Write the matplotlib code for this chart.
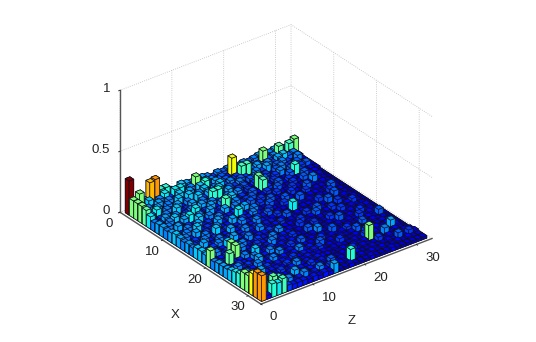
import matplotlib
matplotlib.use('Agg')
import matplotlib.pyplot as plt
import numpy as np

plt.rcParams['font.family'] = ['Liberation Sans', 'DejaVu Sans']
plt.rcParams['grid.color'] = '#bcbcbc'
plt.rcParams['grid.linestyle'] = ':'
plt.rcParams['grid.linewidth'] = 0.6

# bar heights in hundredths; rows are X = 1..32, columns Z = 1..32
heights = [
    [28, 7, 14, 7, 20, 21, 11, 11, 7, 5, 9, 8, 7, 9, 8, 7, 5, 7, 6, 7, 8, 6, 7, 6, 7, 8, 6, 7, 8, 7, 6, 5],
    [14, 7, 5, 9, 4, 7, 10, 5, 10, 10, 5, 7, 14, 5, 8, 7, 3, 6, 4, 18, 6, 7, 8, 6, 5, 14, 6, 7, 13, 5, 12, 14],
    [14, 5, 7, 5, 8, 4, 7, 5, 9, 5, 8, 4, 9, 11, 5, 8, 3, 6, 3, 5, 12, 12, 6, 8, 6, 7, 5, 8, 9, 6, 7, 3],
    [14, 4, 5, 8, 4, 7, 4, 9, 5, 9, 4, 7, 9, 5, 7, 9, 5, 7, 3, 6, 5, 3, 7, 5, 8, 3, 6, 7, 5, 3, 7, 2],
    [13, 7, 10, 4, 7, 5, 8, 4, 7, 4, 9, 5, 8, 4, 9, 4, 6, 5, 7, 3, 6, 7, 3, 5, 3, 6, 7, 5, 3, 6, 3, 2],
    [10, 4, 5, 7, 4, 9, 4, 5, 8, 4, 7, 4, 11, 11, 5, 8, 3, 5, 6, 3, 5, 3, 6, 3, 5, 7, 3, 6, 3, 5, 6, 2],
    [7, 5, 8, 4, 7, 4, 5, 7, 4, 8, 4, 7, 5, 4, 7, 4, 7, 3, 5, 3, 13, 6, 3, 5, 3, 3, 6, 11, 5, 3, 3, 2],
    [8, 4, 7, 9, 4, 7, 5, 10, 4, 5, 8, 4, 7, 4, 9, 4, 5, 3, 6, 3, 12, 5, 3, 6, 3, 5, 3, 3, 6, 3, 3, 1],
    [8, 7, 4, 5, 8, 10, 4, 7, 4, 8, 4, 5, 12, 4, 7, 4, 5, 6, 3, 3, 5, 3, 6, 3, 3, 5, 3, 6, 3, 2, 3, 1],
    [7, 4, 8, 4, 5, 4, 9, 4, 7, 4, 5, 8, 4, 7, 4, 3, 6, 3, 5, 3, 3, 5, 3, 3, 5, 3, 3, 3, 7, 3, 2, 1],
    [8, 5, 4, 7, 4, 8, 4, 5, 4, 7, 4, 4, 5, 4, 8, 4, 3, 5, 3, 6, 3, 3, 3, 5, 3, 2, 6, 3, 2, 3, 2, 1],
    [9, 4, 7, 4, 9, 4, 5, 4, 8, 4, 5, 4, 10, 4, 4, 7, 3, 3, 6, 3, 3, 6, 3, 2, 3, 5, 2, 3, 3, 2, 3, 1],
    [8, 7, 4, 8, 4, 5, 4, 7, 4, 4, 8, 4, 5, 4, 7, 4, 3, 5, 3, 2, 5, 3, 2, 6, 2, 3, 3, 2, 3, 6, 2, 1],
    [7, 4, 5, 4, 7, 4, 9, 4, 5, 4, 4, 7, 4, 4, 5, 4, 6, 2, 3, 3, 3, 6, 3, 2, 3, 2, 3, 2, 5, 2, 2, 1],
    [8, 5, 4, 7, 4, 5, 4, 4, 8, 4, 5, 4, 4, 7, 4, 3, 3, 5, 2, 3, 10, 2, 3, 3, 2, 5, 2, 3, 6, 2, 2, 1],
    [7, 4, 8, 4, 4, 7, 4, 5, 4, 4, 7, 4, 5, 3, 4, 4, 2, 3, 6, 2, 3, 3, 2, 3, 2, 2, 6, 2, 2, 3, 2, 1],
    [9, 4, 4, 5, 7, 4, 4, 8, 4, 5, 4, 3, 7, 4, 3, 4, 5, 2, 3, 3, 2, 5, 2, 6, 3, 2, 2, 5, 2, 2, 3, 1],
    [9, 5, 4, 4, 4, 9, 5, 4, 4, 7, 3, 4, 4, 5, 4, 3, 3, 3, 2, 5, 2, 3, 6, 2, 3, 5, 2, 2, 3, 5, 2, 1],
    [8, 4, 7, 4, 5, 4, 4, 7, 4, 3, 5, 4, 3, 4, 7, 3, 3, 2, 5, 2, 3, 2, 3, 3, 2, 2, 5, 2, 3, 2, 2, 1],
    [14, 4, 4, 5, 14, 4, 7, 4, 3, 5, 4, 4, 7, 3, 4, 4, 2, 3, 2, 3, 5, 2, 2, 5, 2, 3, 2, 3, 2, 3, 3, 1],
    [7, 5, 4, 7, 14, 5, 4, 4, 5, 3, 4, 7, 3, 4, 3, 5, 3, 2, 6, 2, 3, 2, 3, 2, 6, 2, 3, 2, 5, 2, 2, 1],
    [8, 4, 13, 4, 4, 7, 4, 9, 3, 4, 5, 3, 4, 3, 4, 3, 3, 2, 3, 7, 2, 3, 2, 3, 2, 3, 2, 5, 2, 3, 2, 1],
    [8, 5, 4, 5, 4, 4, 7, 4, 4, 7, 3, 4, 3, 5, 3, 6, 2, 3, 2, 3, 2, 6, 2, 2, 3, 2, 3, 2, 3, 2, 6, 1],
    [8, 4, 7, 4, 5, 4, 8, 3, 4, 4, 7, 3, 4, 3, 4, 3, 3, 2, 5, 2, 3, 2, 3, 5, 2, 3, 6, 2, 3, 2, 2, 1],
    [9, 5, 4, 4, 4, 7, 4, 4, 7, 3, 4, 3, 4, 7, 3, 4, 2, 6, 2, 3, 2, 3, 2, 3, 6, 2, 3, 2, 2, 3, 2, 1],
    [10, 4, 7, 5, 4, 4, 5, 3, 4, 4, 3, 5, 3, 4, 3, 4, 5, 2, 3, 2, 5, 2, 2, 3, 2, 5, 2, 3, 2, 3, 2, 1],
    [11, 5, 4, 4, 8, 4, 4, 4, 3, 5, 3, 4, 3, 4, 3, 3, 3, 2, 3, 3, 2, 2, 3, 2, 5, 2, 3, 2, 2, 8, 3, 1],
    [14, 4, 10, 7, 4, 4, 3, 5, 3, 4, 7, 3, 4, 3, 4, 3, 3, 2, 2, 3, 2, 3, 2, 3, 14, 2, 2, 7, 2, 3, 2, 1],
    [14, 5, 4, 4, 4, 5, 4, 3, 4, 3, 4, 3, 5, 3, 4, 3, 3, 2, 3, 2, 5, 2, 3, 2, 2, 5, 2, 3, 2, 2, 3, 2],
    [18, 4, 8, 4, 7, 4, 3, 4, 8, 3, 4, 4, 3, 4, 3, 6, 2, 3, 2, 2, 3, 2, 2, 3, 2, 2, 3, 2, 6, 2, 5, 3],
    [21, 10, 8, 13, 11, 4, 7, 3, 4, 7, 3, 4, 7, 3, 5, 3, 3, 2, 11, 2, 3, 2, 3, 2, 3, 2, 2, 3, 2, 3, 2, 2],
    [21, 3, 11, 10, 12, 5, 4, 4, 4, 3, 4, 3, 4, 3, 8, 2, 2, 3, 2, 2, 2, 3, 2, 2, 2, 3, 2, 2, 2, 2, 2, 2],
]
x_ticks = [0, 10, 20, 30]
z_ticks = [0, 10, 20, 30]
y_ticks = [0, 0.5, 1]
y_tick_labels = ['0', '0.5', '1']

h = np.array(heights) / 100.
cmap = plt.get_cmap('jet')

fig = plt.figure(figsize=(5.36, 3.42), dpi=100)
ax = fig.add_axes([3.4 / 536, 2 / 342, 1, 1], projection='3d', proj_type='ortho',
                  computed_zorder=False)
ax.patch.set_alpha(0)
ax.view_init(elev=30, azim=-37.5)
ax.set_box_aspect((231.6, 215.6, 140.9), zoom=0.983)

# far bars first so that the near ones cover them
width = 0.9
for i in range(h.shape[0]):
    for j in range(h.shape[1]-1, -1, -1):
        v = h[i, j]
        ax.bar3d(i + 1 - width / 2, j + 1 - width / 2, 0, width, width, v,
                 color=cmap(v / h.max()), edgecolor='#101020', linewidth=0.5, shade=False,
                 zorder=i * 40 + (40 - j))

ax.set_xlim(0, 33, view_margin=0)
ax.set_ylim(0, 33, view_margin=0)
ax.set_zlim(0, 1, view_margin=0)
ax.set_xticks(x_ticks)
ax.set_yticks(z_ticks)
ax.set_zticks(y_ticks)
ax.set_zticklabels(y_tick_labels)
ax.zaxis.set_ticks_position('lower')

for axis in (ax.xaxis, ax.yaxis, ax.zaxis):
    axis.set_pane_color((1, 1, 1, 0))
    axis.line.set_color('#555555')
    axis.line.set_linewidth(1.0)
    axis._axinfo['tick']['inward_factor'] = 0.1
    axis._axinfo['tick']['outward_factor'] = 0.0
    axis._axinfo['tick']['linewidth'] = {True: 0.6, False: 0.4}
ax.tick_params(labelsize=9.5, colors='#222222', pad=0)
ax.tick_params(axis='z', pad=-4)
for t in ax.xaxis.get_ticklabels():
    t.set_va('center')
for t in ax.yaxis.get_ticklabels():
    t.set_va('center')
    t.set_ha('left')
for t in ax.zaxis.get_ticklabels():
    t.set_ha('right')
    t.set_va('center')

fig.text(175 / 536, 1 - 315 / 342, 'X', fontsize=9.5, color='#222222', ha='center', va='center')
fig.text(352 / 536, 1 - 321 / 342, 'Z', fontsize=9.5, color='#222222', ha='center', va='center')

fig.savefig('out.png', dpi=100)
